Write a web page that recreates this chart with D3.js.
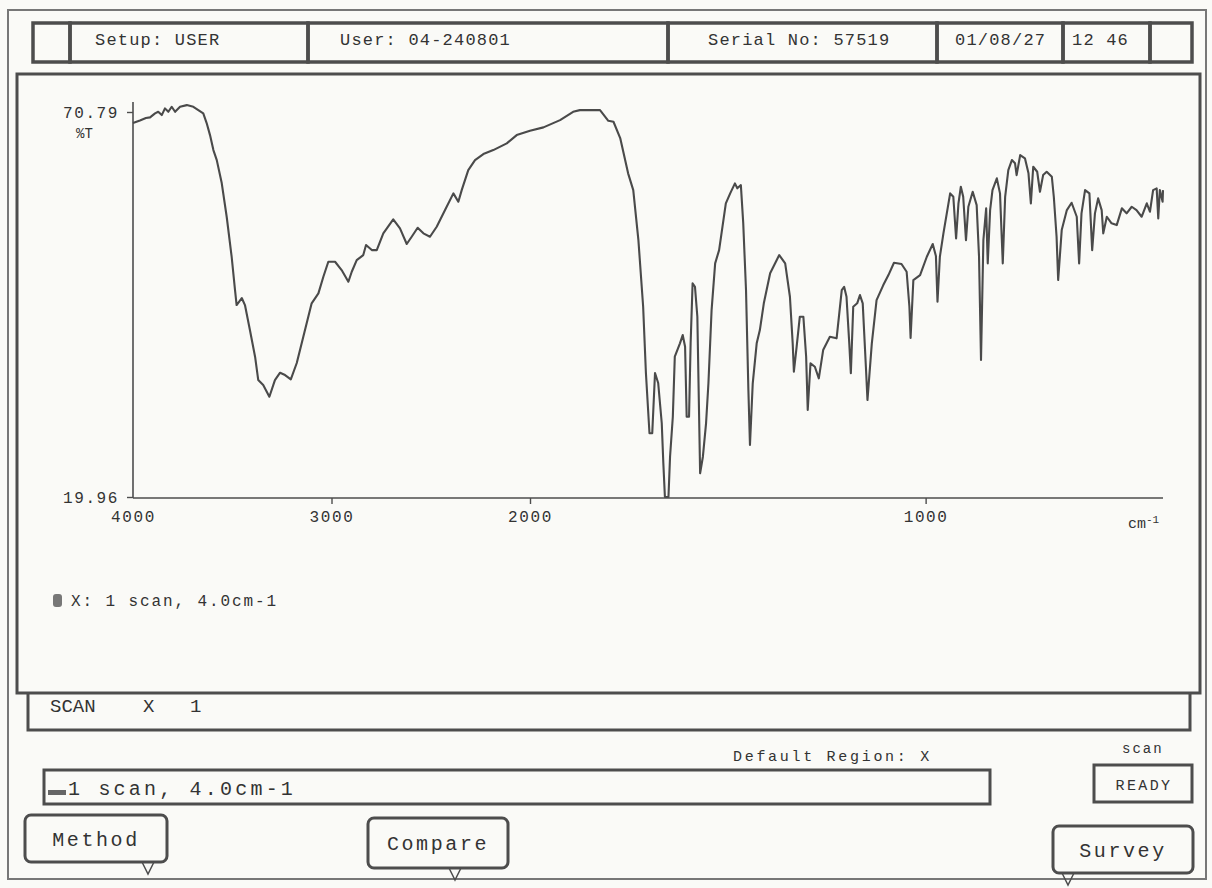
<!DOCTYPE html>
<html>
<head>
<meta charset="utf-8">
<script src="https://cdn.jsdelivr.net/npm/d3@7"></script>
<style>
  body { margin: 0; background: #fafaf7; }
  svg text { font-family: "Liberation Mono", "DejaVu Sans Mono", monospace; fill: #333; }
</style>
</head>
<body>
<svg id="chart"></svg>
<script>
// spectrum: wavenumber (cm-1) and %T
let wavenumber = [4000,3965,3935,3914,3889,3873,3855,3839,3822,3805,3788,3763,3729,3696,3671,3646,3629,3612,3595,3578,
  3553,3528,3503,3486,3478,3452,3436,3411,3385,3369,3344,3313,3285,3259,3234,3205,3175,3142,3100,3066,
  3041,3016,2982,2949,2915,2898,2873,2840,2826,2797,2772,2739,2689,2655,2621,2596,2566,2537,2504,2470,
  2428,2386,2361,2344,2311,2277,2235,2185,2117,2067,2000,
  1966,1924,1891,1874,1823,1802,1789,1772,1752,1739,1726,1714,1707,1698,1691,1684,1676,1667,1663,1659,
  1650,1646,1639,1634,1621,1614,1608,1604,1598,1594,1589,1583,1577,1570,1563,1555,1549,1541,1532,1522,
  1505,1494,1482,1476,1467,1461,1454,1448,1444,1437,1427,1419,1409,1393,1370,1355,1343,1336,1333,1326,
  1318,1309,1302,1298,1291,1280,1270,1259,1242,1225,1212,1206,1200,1193,1189,1183,1173,1166,1159,1151,
  1147,1136,1124,1107,1094,1080,1061,1048,1041,1038,1031,1014,997,982,974,970,964,955,938,930,
  923,917,911,905,898,892,881,871,865,860,854,847,843,837,831,820,812,805,799,791,
  782,774,770,761,749,740,734,728,718,711,703,694,681,676,669,665,656,643,631,618,
  612,606,597,586,579,572,564,555,551,542,530,517,504,492,479,467,454,441,433,425,
  416,412,408,401,400];
let transmittance = [69.33,69.66,69.99,70.08,70.61,70.82,70.38,71.27,70.82,71.48,70.82,71.48,71.70,71.48,71.04,70.61,69.33,67.74,65.76,64.44,
  61.41,56.96,51.68,47.28,45.30,46.23,45.30,42.00,38.48,35.40,34.74,33.20,35.40,36.37,36.06,35.50,37.65,41.12,45.53,46.85,
  49.04,51.02,51.02,49.92,48.38,49.70,51.24,51.90,53.22,52.56,52.56,54.77,56.62,55.43,53.36,54.32,55.51,54.77,54.32,55.64,
  57.84,60.05,58.94,60.48,63.12,64.44,65.24,65.76,66.65,67.74,68.31,
  68.76,69.72,70.82,71.04,71.04,69.63,69.50,67.35,62.69,60.48,53.88,45.08,36.33,28.37,28.37,36.33,35.01,29.73,24.45,19.96,
  19.96,25.28,30.56,38.48,40.25,41.34,39.80,30.56,30.56,40.25,48.17,47.72,43.76,23.09,25.28,29.69,34.97,44.64,50.81,52.56,
  58.73,60.05,61.37,60.71,61.14,56.09,47.28,34.08,26.82,34.97,40.25,42.00,45.53,49.49,51.90,50.81,46.40,40.25,36.50,39.80,
  43.76,43.76,38.48,31.44,37.61,37.16,35.63,39.36,41.12,40.91,47.28,47.72,46.40,40.25,36.29,45.08,45.53,46.62,45.53,37.16,
  32.76,40.25,45.96,47.94,49.26,50.89,50.72,49.70,45.08,40.95,48.60,49.26,51.68,53.36,51.77,45.74,51.68,54.77,60.05,59.60,
  54.11,58.73,60.92,59.60,53.88,58.28,60.26,58.50,51.68,38.04,53.88,58.07,50.81,57.84,60.48,62.03,60.05,50.81,59.60,63.12,
  64.44,64.01,62.46,65.10,64.67,62.69,58.73,63.56,62.90,60.26,62.46,62.90,62.24,59.60,54.32,48.60,55.20,57.84,58.81,56.96,
  50.81,57.41,60.48,60.05,52.56,57.41,59.39,57.84,54.77,56.96,56.09,55.86,58.07,57.41,58.28,57.84,56.96,58.73,57.62,60.48,
  60.71,56.75,60.48,58.94,60.48];

let xTicks = [4000, 3000, 2000, 1000];
let yTicks = [70.79, 19.96];
let headerCells = ['', 'Setup: USER', 'User: 04-240801', 'Serial No: 57519', '01/08/27', '12 46', ''];
let buttons = ['Method', 'Compare', 'Survey'];

let ink = '#4d4d4d';

let svg = d3.select('#chart')
  .attr('width', 1212)
  .attr('height', 888);

svg.append('rect').attr('width', 1212).attr('height', 888).attr('fill', '#fafaf7');

// outer frame
svg.append('rect')
  .attr('x', 8).attr('y', 10).attr('width', 1198).attr('height', 869)
  .attr('fill', 'none').attr('stroke', '#777').attr('stroke-width', 2);

// header bar
let cellEdges = [33, 70, 308, 668, 937, 1063, 1150, 1192];
let textLeft = [0, 95, 340, 708, 955, 1072, 0];
let header = svg.append('g');
header.selectAll('rect')
  .data(headerCells)
  .enter()
  .append('rect')
  .attr('x', (d, i) => cellEdges[i])
  .attr('y', 23)
  .attr('width', (d, i) => cellEdges[i + 1] - cellEdges[i])
  .attr('height', 39)
  .attr('fill', 'none')
  .attr('stroke', ink)
  .attr('stroke-width', 3.5);
header.selectAll('text')
  .data(headerCells)
  .enter()
  .append('text')
  .attr('x', (d, i) => textLeft[i])
  .attr('y', 45)
  .style('font-size', '17px')
  .style('letter-spacing', '1.2px')
  .text(d => d);

// plot frame
svg.append('rect')
  .attr('x', 17).attr('y', 74).attr('width', 1183).attr('height', 619)
  .attr('fill', 'none').attr('stroke', ink).attr('stroke-width', 3);

// scales: split wavenumber axis at 2000
let x = d3.scaleLinear()
  .domain([4000, 2000, 400])
  .range([133, 530, 1163]);
let y = d3.scaleLinear()
  .domain([19.96, 70.79])
  .range([497, 112]);

let xAxis = d3.axisBottom(x)
  .tickValues(xTicks)
  .tickFormat(d3.format('d'))
  .tickSize(6)
  .tickSizeOuter(0);
let yAxis = d3.axisLeft(y)
  .tickValues(yTicks)
  .tickFormat(d3.format('.2f'))
  .tickSize(6)
  .tickSizeOuter(0);

let gX = svg.append('g').attr('transform', 'translate(0,' + (y(19.96) + 1) + ')').call(xAxis);
let gY = svg.append('g').attr('transform', 'translate(' + x(4000) + ',0)').call(yAxis);

[gX, gY].forEach(g => {
  g.select('.domain').attr('stroke', ink).attr('stroke-width', 1.6);
  g.selectAll('.tick line').attr('stroke', ink).attr('stroke-width', 1.4);
  g.selectAll('.tick text')
    .style('font-family', '"Liberation Mono", monospace')
    .style('font-size', '16px')
    .style('letter-spacing', '1.6px')
    .attr('fill', '#333');
});
gX.select('.domain').attr('d', 'M' + x(4000) + ',0H' + x(400));
gX.selectAll('.tick text').attr('dy', '0.95em');
gX.selectAll('.tick').filter(d => d === 4000).select('line').remove();
gY.select('.domain').attr('d', 'M0,' + (y(19.96) + 1) + 'V' + (y(70.79) - 10));
gY.selectAll('.tick text').attr('x', -14);

svg.append('text').attr('x', 76).attr('y', 138).style('font-size', '14px').text('%T');
let unit = svg.append('text').attr('x', 1128).attr('y', 528).style('font-size', '15px');
unit.append('tspan').text('cm');
unit.append('tspan').attr('dy', -5).style('font-size', '11px').text('-1');

// spectrum
let pts = wavenumber.map((w, i) => [w, transmittance[i]]);
let line = d3.line()
  .x(d => x(d[0]))
  .y(d => y(d[1]));
svg.append('path')
  .datum(pts)
  .attr('d', line)
  .attr('fill', 'none')
  .attr('stroke', '#4a4a4a')
  .attr('stroke-width', 2.1)
  .attr('stroke-linejoin', 'round');

// legend
svg.append('rect').attr('x', 53).attr('y', 594).attr('width', 9).attr('height', 13).attr('rx', 3)
  .attr('fill', '#777');
svg.append('text').attr('x', 71).attr('y', 606).style('font-size', '16px').style('letter-spacing', '1.9px')
  .text('X: 1 scan, 4.0cm-1');

// scan status bar
svg.append('path')
  .attr('d', 'M28,693 V730 H1190 V693')
  .attr('fill', 'none').attr('stroke', ink).attr('stroke-width', 3);
svg.append('text').attr('x', 50).attr('y', 712).style('font-size', '19px').text('SCAN');
svg.append('text').attr('x', 143).attr('y', 712).style('font-size', '19px').text('X');
svg.append('text').attr('x', 190).attr('y', 712).style('font-size', '19px').text('1');

svg.append('text').attr('x', 733).attr('y', 761).style('font-size', '15px').style('letter-spacing', '2.7px')
  .text('Default Region: X');
svg.append('text').attr('x', 1122).attr('y', 753).style('font-size', '14px').style('letter-spacing', '2px')
  .text('scan');

// command line box
svg.append('rect').attr('x', 44).attr('y', 770).attr('width', 946).attr('height', 34)
  .attr('fill', 'none').attr('stroke', ink).attr('stroke-width', 3);
svg.append('rect').attr('x', 48).attr('y', 790).attr('width', 18).attr('height', 5).attr('fill', '#666');
svg.append('text').attr('x', 68).attr('y', 795).style('font-size', '20px').style('letter-spacing', '3.2px')
  .text('1 scan, 4.0cm-1');

// ready box
svg.append('rect').attr('x', 1094).attr('y', 765).attr('width', 98).attr('height', 37)
  .attr('fill', 'none').attr('stroke', ink).attr('stroke-width', 3);
svg.append('text').attr('x', 1144).attr('y', 790).attr('text-anchor', 'middle').style('font-size', '15px')
  .style('letter-spacing', '2.4px')
  .text('READY');

// soft-key buttons with pointer tails
let btnBox = [[25, 815, 142, 47, 148], [368, 818, 140, 50, 455], [1053, 826, 140, 47, 1068]];
let btn = svg.selectAll('.btn')
  .data(buttons)
  .enter()
  .append('g')
  .attr('class', 'btn');
btn.append('rect')
  .attr('x', (d, i) => btnBox[i][0])
  .attr('y', (d, i) => btnBox[i][1])
  .attr('width', (d, i) => btnBox[i][2])
  .attr('height', (d, i) => btnBox[i][3])
  .attr('rx', 6)
  .attr('fill', '#fafaf7')
  .attr('stroke', ink)
  .attr('stroke-width', 3);
btn.append('path')
  .attr('d', (d, i) => {
    let b = btnBox[i], by = b[1] + b[3];
    return 'M' + (b[4] - 6) + ',' + by + ' L' + b[4] + ',' + (by + 12) + ' L' + (b[4] + 6) + ',' + by;
  })
  .attr('fill', 'none')
  .attr('stroke', ink)
  .attr('stroke-width', 1.5);
btn.append('text')
  .attr('x', (d, i) => btnBox[i][0] + btnBox[i][2] / 2)
  .attr('y', (d, i) => btnBox[i][1] + btnBox[i][3] / 2 + 7)
  .attr('text-anchor', 'middle')
  .style('font-size', '20px')
  .style('letter-spacing', '2.6px')
  .text(d => d);
</script>
</body>
</html>
